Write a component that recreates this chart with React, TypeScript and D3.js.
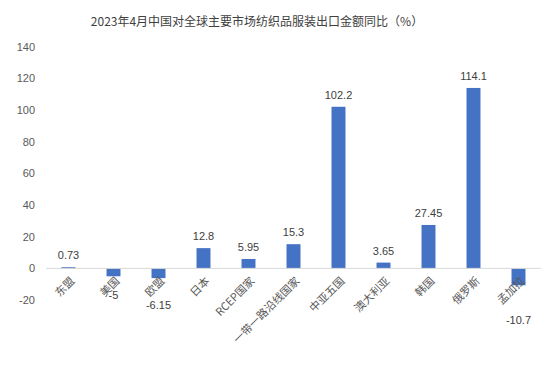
import React from "react";
import { scaleBand, scaleLinear } from "d3";

// categories + yoy values (%)
const categories = [
  "东盟",
  "美国",
  "欧盟",
  "日本",
  "RCEP国家",
  "一带一路沿线国家",
  "中亚五国",
  "澳大利亚",
  "韩国",
  "俄罗斯",
  "孟加拉",
];
const values = [0.73, -5, -6.15, 12.8, 5.95, 15.3, 102.2, 3.65, 27.45, 114.1, -10.7];
const yTicks = [-20, 0, 20, 40, 60, 80, 100, 120, 140];
const title = "2023年4月中国对全球主要市场纺织品服装出口金额同比（%）";

const W = 558;
const H = 366;
const cjkFont = "'Noto Sans CJK SC', 'Liberation Sans', sans-serif";
const numFont = "'Liberation Sans', Arial, sans-serif";
const gray = "#595959";

// negative labels get pushed down by Excel to clear the category text
const negNudge: Record<string, number> = { 美国: 19, 欧盟: 27, 孟加拉: 35 };

export default function App() {
  const x = scaleBand<string>()
    .domain(categories)
    .range([46, 541])
    .paddingInner(0.69)
    .paddingOuter(0.345);

  const y = scaleLinear().domain([-20, 140]).range([300, 47]);

  return (
    <svg
      width={W}
      height={H}
      style={{ position: "absolute", left: 0, top: 0, background: "#fff" }}
      fontFamily={cjkFont}
    >
      <text
        x={257}
        y={26}
        textAnchor="middle"
        fontSize={12}
        fill="#404040"
      >
        {title}
      </text>

      {/* y axis labels */}
      {yTicks.map((t) => (
        <text
          key={t}
          x={35}
          y={y(t)}
          dy="0.35em"
          textAnchor="end"
          fontSize={11}
          fontFamily={numFont}
          fill={gray}
        >
          {t}
        </text>
      ))}

      {/* bars */}
      {categories.map((c, i) => {
        const v = values[i];
        const y0 = y(0);
        const yv = y(v);
        return (
          <rect
            key={c}
            x={x(c)}
            y={Math.min(y0, yv)}
            width={x.bandwidth()}
            height={Math.max(1.5, Math.abs(yv - y0))}
            fill="#4472C4"
          />
        );
      })}

      {/* zero line */}
      <line x1={46} x2={541} y1={y(0)} y2={y(0)} stroke="#d9d9d9" strokeWidth={1} />

      {/* value labels */}
      {categories.map((c, i) => {
        const v = values[i];
        const cx = (x(c) ?? 0) + x.bandwidth() / 2;
        const ly = v >= 0 ? y(v) - 8 : y(v) + (negNudge[c] ?? 15);
        return (
          <text
            key={c}
            x={cx}
            y={ly}
            dy={v >= 0 ? 0 : "0.35em"}
            textAnchor="middle"
            fontSize={11}
            fontFamily={numFont}
            fill="#404040"
          >
            {v}
          </text>
        );
      })}

      {/* category labels, rotated */}
      {categories.map((c) => {
        const cx = (x(c) ?? 0) + x.bandwidth() / 2 + 4;
        const cy = 279;
        return (
          <text
            key={c}
            transform={`translate(${cx},${cy}) rotate(-45)`}
            textAnchor="end"
            dy="0.35em"
            fontSize={11}
            fill={gray}
          >
            {c}
          </text>
        );
      })}
    </svg>
  );
}
